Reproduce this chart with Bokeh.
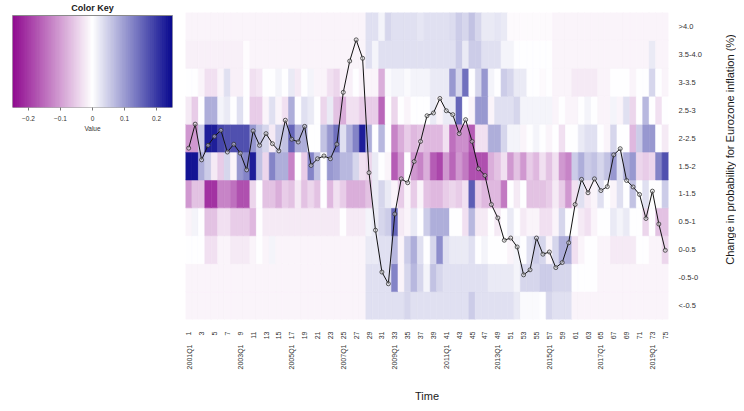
import math
from bokeh.plotting import figure
from bokeh.layouts import row
from bokeh.models import (Range1d, LinearAxis, FixedTicker, LinearColorMapper,
                          ColumnDataSource)
from bokeh.embed import file_html
from bokeh.resources import INLINE

# ---------------- data ----------------
n_cols = 75
col_index = list(range(1, n_cols + 1))
number_ticks = list(range(1, 76, 2))
quarter_ticks = [1, 9, 17, 25, 33, 41, 49, 57, 65, 73]
quarter_labels = ["2001Q1", "2003Q1", "2005Q1", "2007Q1", "2009Q1",
                  "2011Q1", "2013Q1", "2015Q1", "2017Q1", "2019Q1"]
row_labels = ["<-0.5", "-0.5-0", "0-0.5", "0.5-1", "1-1.5", "1.5-2",
              "2-2.5", "2.5-3", "3-3.5", "3.5-4.0", ">4.0"]
row_centers = [-0.75, -0.25, 0.25, 0.75, 1.25, 1.75, 2.25, 2.75, 3.25, 3.75, 4.25]
key_ticks = [-0.2, -0.1, 0, 0.1, 0.2]

inflation = [2.07, 2.5, 1.86, 2.12, 2.28, 2.39, 2.0, 2.14, 1.98, 1.68, 2.38, 2.12, 2.33, 2.15, 2.02, 2.57, 2.23, 2.18, 2.46,
             1.76, 1.88, 1.93, 1.88, 2.14, 3.07, 3.63, 4.01, 3.68, 1.63, 0.60, -0.15, -0.36, 0.89, 1.52, 1.45, 1.83, 2.19, 2.65,
             2.70, 2.96, 2.74, 2.67, 2.33, 2.58, 2.19, 1.70, 1.58, 1.06, 0.82, 0.42, 0.46, 0.30, -0.20, -0.11, 0.46, 0.17, 0.21,
             -0.07, 0.02, 0.375, 1.06, 1.51, 1.27, 1.52, 1.31, 1.38, 1.95, 2.06, 1.49, 1.375, 1.24, 0.81, 1.30, 0.71, 0.24]

row_lt_m05 = [-0.01] * 28 + [0.03, 0.03, 0.03, 0.03, 0.03, 0.03, 0.04, 0.03, 0.03, 0.03] + \
             [0.03] * 6 + [0.05] + [0.03] * 6 + [0.02, 0.005, 0.005, 0.005, 0.0, 0.04] + [0.03] * 3 + [-0.01] * 15
row_m05_0 = [-0.01] * 28 + [0.03, 0.03, 0.03, 0.03, 0.12, -0.01, 0.04, 0.07, 0.04, 0.01] + \
            [0.06, 0.04] + [0.03] * 7 + [0.02] * 4 + [0.01, 0.04, 0.04, 0.04, 0.05, 0.05] + \
            [0.04, 0.04, 0.04, 0.0, 0.0, 0.0, 0.0] + [-0.01] * 11
row_0_05 = [0.0, 0.0, 0.0, -0.03, -0.03, -0.01, -0.01, -0.02, -0.02, -0.02, -0.01, 0.0, -0.01, 0.01, -0.01, -0.01, -0.01, -0.01, -0.01,
            -0.01, -0.01, -0.01, -0.01, -0.01, -0.01, -0.01, -0.01, -0.01, 0.02, 0.02, 0.03, 0.03, 0.07, -0.01, 0.05, 0.08, 0.03, 0.0,
            0.04, 0.11, 0.03, 0.02, 0.02, 0.02, 0.03, 0.0, 0.01, 0.0, 0.0, 0.0, -0.01, 0.01, 0.0, 0.03, 0.05, 0.04, -0.01,
            0.04, 0.08, 0.08, -0.03, -0.01, 0.0, 0.0, -0.01, -0.01, -0.02, -0.02, -0.02, -0.02, 0.0, 0.0, -0.01, -0.01, -0.04]
row_05_1 = [-0.01, 0.01, 0.0, -0.06, -0.06, -0.03, -0.03, -0.05, -0.05, -0.05, -0.07, 0.0, -0.02, -0.02, -0.02, -0.02, -0.02, -0.02, -0.02,
            -0.02, -0.02, -0.02, -0.02, -0.02, 0.0, -0.02, -0.02, -0.02, 0.01, 0.02, 0.04, 0.05, 0.15, -0.02, -0.01, 0.02, 0.0, 0.05,
            0.08, 0.08, 0.08, 0.0, 0.0, -0.03, 0.07, -0.02, -0.02, 0.0, -0.02, 0.0, 0.02, 0.0, -0.02, -0.01, -0.01, -0.03, -0.03,
            -0.01, 0.04, 0.0, 0.0, -0.02, -0.03, -0.01, 0.0, 0.0, 0.02, 0.01, 0.02, 0.0, 0.0, -0.04, 0.0, -0.06, -0.06]
row_1_15 = [-0.1, -0.06, -0.06, -0.2, -0.2, -0.12, -0.12, -0.14, -0.17, -0.17, -0.04, 0.0, -0.06, -0.06, -0.08, -0.05, -0.06, -0.02, -0.06,
            -0.04, -0.06, 0.0, -0.07, -0.03, -0.05, -0.08, -0.08, -0.08, -0.06, 0.02, 0.04, 0.02, -0.01, -0.05, -0.01, -0.05, -0.01, -0.06,
            -0.07, -0.07, -0.05, -0.04, -0.05, -0.03, 0.16, -0.05, -0.07, -0.07, -0.07, -0.13, 0.0, -0.02, 0.0, -0.06, -0.06, -0.06, -0.05,
            -0.02, -0.05, -0.1, -0.03, 0.03, -0.02, -0.01, 0.03, 0.0, -0.01, 0.03, 0.0, 0.06, 0.0, 0.03, 0.0, 0.0, 0.05]
row_15_2 = [0.23, 0.23, 0.08, 0.05, -0.02, -0.05, 0.04, -0.01, 0.1, 0.12, 0.22, 0.06, -0.04, 0.12, 0.08, 0.08, -0.12, 0.0, -0.05,
            0.12, 0.06, 0.0, 0.1, 0.09, 0.07, 0.07, 0.04, -0.03, -0.04, 0.02, 0.0, -0.01, -0.16, -0.1, 0.0, -0.1, -0.12, -0.08,
            -0.16, -0.18, -0.1, -0.15, -0.1, -0.13, -0.17, -0.17, -0.17, -0.08, -0.06, -0.03, -0.1, -0.06, -0.1, -0.05, -0.07, -0.03, -0.06,
            -0.03, -0.1, -0.12, 0.05, 0.08, 0.05, 0.06, 0.04, 0.06, 0.1, 0.03, 0.08, 0.1, -0.04, -0.05, -0.04, 0.12, 0.17]
row_2_25 = [-0.1, -0.1, 0.05, 0.22, 0.22, 0.18, 0.17, 0.17, 0.17, 0.17, 0.1, 0.06, 0.04, -0.02, 0.05, 0.06, 0.15, 0.08, 0.08,
            0.0, 0.0, 0.06, 0.1, 0.14, 0.03, 0.08, 0.12, 0.22, 0.08, 0.0, 0.07, 0.0, -0.12, -0.08, -0.05, -0.07, -0.06, -0.07,
            -0.07, -0.07, -0.03, -0.14, -0.11, -0.11, -0.16, -0.03, -0.03, 0.08, 0.08, 0.04, 0.01, 0.01, -0.01, 0.0, 0.01, 0.0, -0.01,
            0.0, -0.03, 0.0, 0.0, 0.02, 0.03, 0.03, 0.0, -0.01, 0.04, 0.0, 0.0, -0.07, 0.05, 0.1, 0.1, 0.0, -0.02]
row_25_3 = [-0.02, -0.05, 0.0, 0.08, 0.08, 0.01, 0.02, 0.0, 0.03, 0.0, -0.05, -0.05, -0.01, 0.03, -0.01, -0.03, 0.08, 0.0, 0.03,
            0.02, 0.0, -0.04, 0.02, -0.06, -0.08, -0.03, -0.03, -0.05, -0.05, -0.05, -0.15, 0.0, -0.04, 0.0, -0.01, 0.0, 0.0, 0.0,
            0.02, -0.01, 0.02, 0.02, 0.15, 0.0, -0.01, 0.1, 0.1, -0.01, 0.03, 0.03, 0.03, 0.04, 0.01, 0.01, 0.01, 0.01, 0.01,
            -0.01, 0.0, -0.01, -0.01, 0.0, 0.01, 0.0, -0.01, -0.01, 0.01, -0.01, 0.03, -0.04, 0.0, 0.07, 0.0, -0.03, 0.0]
row_3_35 = [0.0, 0.0, -0.01, -0.03, -0.03, -0.01, 0.03, -0.015, -0.015, 0.0, -0.03, -0.025, 0.0, 0.0, 0.01, 0.0, 0.02, -0.02, 0.0,
            0.01, -0.01, -0.01, -0.03, -0.04, -0.015, -0.015, 0.0, -0.015, -0.01, -0.01, -0.08, 0.005, 0.01, 0.01, 0.005, 0.01, 0.01, 0.01,
            0.02, 0.02, 0.02, 0.1, 0.04, 0.14, 0.0, 0.04, 0.1, 0.01, 0.0, 0.05, 0.04, 0.02, 0.02, 0.0, 0.0, -0.005, 0.0,
            -0.01, -0.01, -0.01, -0.02, -0.02, -0.02, -0.02, -0.01, -0.01, 0.0, 0.0, 0.0, -0.01, 0.0, 0.0, 0.04, 0.0, -0.01]
row_35_4 = [-0.015] * 9 + [-0.003] + [-0.01] * 18 + [0.03, 0.01, 0.03] + [0.03] * 7 + \
           [0.03] * 4 + [0.05, 0.02, 0.05, 0.05, 0.03, 0.03, 0.03, 0.01, 0.01] + [0.0] * 6 + \
           [-0.01] * 15 + [0.02, -0.01, -0.01]
row_gt4 = [-0.01] * 28 + [0.03, 0.03, 0.01, 0.04, 0.03, 0.03, 0.03, 0.03, 0.025, 0.03] + \
          [0.03, 0.03, 0.03, 0.035, 0.05, 0.04, 0.06, 0.04, 0.02, 0.02, 0.025, 0.02] + [-0.005] * 7 + [-0.01] * 18

heat_rows = [row_lt_m05, row_m05_0, row_0_05, row_05_1, row_1_15, row_15_2,
             row_2_25, row_25_3, row_3_35, row_35_4, row_gt4]

# ---------------- palette: darkmagenta - white - darkblue ----------------
def lerp(c1, c2, t):
    return tuple(int(round(a + (b - a) * t)) for a, b in zip(c1, c2))

dm, wh, db = (139, 0, 139), (255, 255, 255), (0, 0, 139)
palette = []
N = 256
for i in range(N):
    t = i / (N - 1) * 2 - 1
    c = lerp(wh, dm, -t) if t < 0 else lerp(wh, db, t)
    palette.append("#%02x%02x%02x" % c)
mapper = LinearColorMapper(palette=palette, low=-0.25, high=0.25)

FONT = "Liberation Sans"
TXT = "#1a1a1a"
TOP = 12

# ---------------- colour key ----------------
key = figure(width=185, frame_height=95, min_border_left=12, min_border_right=13,
             min_border_top=TOP, min_border_bottom=45,
             x_range=Range1d(-0.25, 0.25), y_range=Range1d(0, 95.0 / 92.0),
             output_backend="svg", toolbar_location=None,
             x_axis_location=None, y_axis_location=None)
key.outline_line_color = None
key.grid.visible = False
key.title.text = "Color Key"
key.title.align = "center"
key.title.text_font = FONT
key.title.text_font_size = "9px"
key.title.text_font_style = "bold"
key.title.text_color = TXT
key.title.standoff = 0
key.title.offset = 0
nstrip = 200
edges = [-0.25 + 0.5 * i / nstrip for i in range(nstrip + 1)]
ksrc = ColumnDataSource(dict(left=edges[:-1], right=edges[1:],
                             v=[(a + b) / 2 for a, b in zip(edges[:-1], edges[1:])]))
key.quad(left="left", right="right", bottom=0, top=1, source=ksrc,
         fill_color={"field": "v", "transform": mapper},
         line_color={"field": "v", "transform": mapper}, line_width=0.5)
key.quad(left=[-0.25], right=[0.25], bottom=[0], top=[1], fill_color=None,
         line_color="#8a8a8a", line_width=1)
kax = LinearAxis(ticker=FixedTicker(ticks=key_ticks),
                 axis_line_color=None, major_tick_out=3, major_tick_in=0,
                 major_tick_line_color="#777777", minor_tick_line_color=None,
                 major_label_text_font_size="6.5px", major_label_text_font=FONT,
                 major_label_text_color="#333333", major_label_standoff=5,
                 axis_label="Value", axis_label_text_font_size="6.5px",
                 axis_label_text_font=FONT, axis_label_text_font_style="normal",
                 axis_label_text_color="#333333", axis_label_standoff=1)
key.add_layout(kax, "below")

# ---------------- heatmap ----------------
p = figure(frame_width=483, frame_height=307, min_border_left=0, min_border_top=TOP,
           min_border_right=38, min_border_bottom=0,
           x_range=Range1d(0.5, 75.5), y_range=Range1d(-1, 4.5),
           output_backend="svg", toolbar_location=None,
           x_axis_location=None, y_axis_location=None)
p.outline_line_color = None
p.grid.visible = False

xs, ys, vs = [], [], []
for r, vals in enumerate(heat_rows):
    for c, v in zip(col_index, vals):
        xs.append(c)
        ys.append(row_centers[r])
        vs.append(v)
hsrc = ColumnDataSource(dict(x=xs, y=ys, v=vs))
p.rect(x="x", y="y", width=1, height=0.5, source=hsrc,
       fill_color={"field": "v", "transform": mapper},
       line_color={"field": "v", "transform": mapper}, line_width=0.6)

p.line(col_index, inflation, line_color="#111111", line_width=1)
p.scatter(col_index, inflation, marker="circle", size=4, line_color="#333333",
          fill_color="#e6e6e6", fill_alpha=0.5, line_width=0.8)

ax1 = LinearAxis(ticker=FixedTicker(ticks=number_ticks), axis_line_color=None,
                 major_tick_line_color=None, minor_tick_line_color=None,
                 major_tick_out=0, major_tick_in=0,
                 major_label_orientation=math.pi / 2, major_label_standoff=12,
                 major_label_text_font_size="7px", major_label_text_font=FONT,
                 major_label_text_color="#333333")
p.add_layout(ax1, "below")
ax2 = LinearAxis(ticker=FixedTicker(ticks=quarter_ticks),
                 major_label_overrides={t: l for t, l in zip(quarter_ticks, quarter_labels)},
                 axis_line_color=None, major_tick_line_color=None, minor_tick_line_color=None,
                 major_tick_out=0, major_tick_in=0,
                 major_label_orientation=math.pi / 2, major_label_standoff=2,
                 major_label_text_font_size="7px", major_label_text_font=FONT,
                 major_label_text_color="#333333",
                 axis_label="Time", axis_label_text_font_size="11px",
                 axis_label_text_font=FONT, axis_label_text_font_style="normal",
                 axis_label_text_color=TXT, axis_label_standoff=18)
p.add_layout(ax2, "below")
ay = LinearAxis(ticker=FixedTicker(ticks=row_centers),
                major_label_overrides={t: l for t, l in zip(row_centers, row_labels)},
                axis_line_color=None, major_tick_line_color=None, minor_tick_line_color=None,
                major_tick_out=0, major_tick_in=0, major_label_standoff=10,
                major_label_text_font_size="7.5px", major_label_text_font=FONT,
                major_label_text_color="#333333")
p.add_layout(ay, "right")

# ---------------- right-hand axis title ----------------
tt = figure(width=30, frame_width=1, frame_height=274, min_border_left=29, min_border_right=0,
            min_border_top=TOP, min_border_bottom=0,
            x_range=Range1d(0, 1), y_range=Range1d(0, 1),
            output_backend="svg", toolbar_location=None,
            x_axis_location=None, y_axis_location=None)
tt.outline_line_color = None
tt.grid.visible = False
tax = LinearAxis(ticker=FixedTicker(ticks=[]), axis_line_color=None,
                 major_tick_line_color=None, minor_tick_line_color=None,
                 major_tick_out=0, major_tick_in=0, major_label_standoff=0,
                 axis_label="Change in probability for Eurozone inflation (%)",
                 axis_label_standoff=0, axis_label_text_font_size="11px",
                 axis_label_text_font=FONT, axis_label_text_font_style="normal",
                 axis_label_text_color=TXT)
tt.add_layout(tax, "left")

layout = row(key, p, tt)
open("out.html", "w").write(file_html(layout, INLINE))
